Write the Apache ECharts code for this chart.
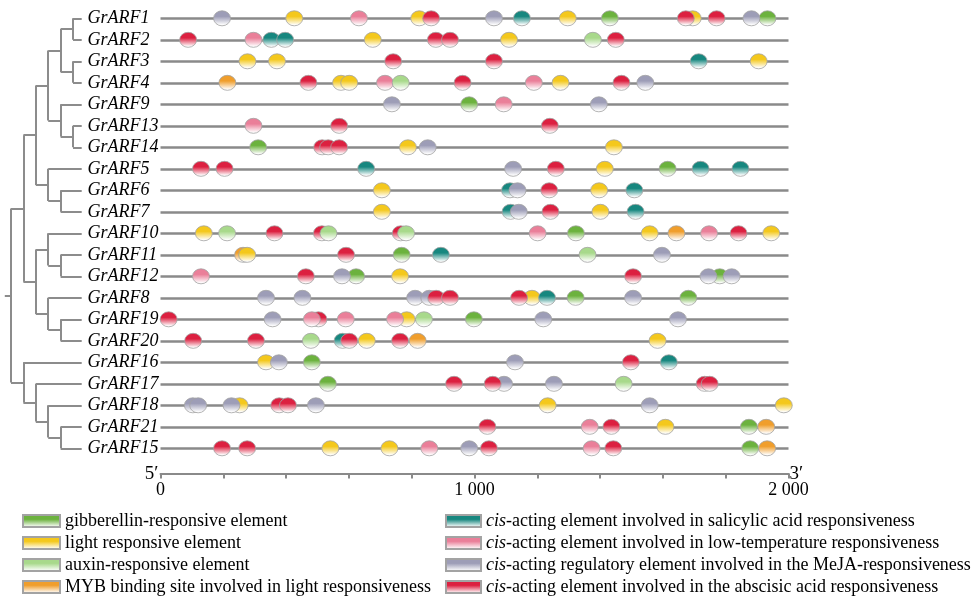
<!DOCTYPE html>
<html><head><meta charset="utf-8">
<script src="https://cdn.jsdelivr.net/npm/echarts@6/dist/echarts.min.js"></script>
<style>html,body{margin:0;padding:0;background:#fff}#c{width:980px;height:598px}</style>
</head><body><div id="c"></div>
<script>
// ---------------- data ----------------
const genes = ['GrARF1','GrARF2','GrARF3','GrARF4','GrARF9','GrARF13','GrARF14','GrARF5','GrARF6','GrARF7',
  'GrARF10','GrARF11','GrARF12','GrARF8','GrARF19','GrARF20','GrARF16','GrARF17','GrARF18','GrARF21','GrARF15'];
const seqLength = 2000;
const tickLabels = [0, 1000, 2000];
// phylogenetic tree (nested pairs)
const tree = [
  [
    [
      [ [['GrARF1','GrARF2'],['GrARF3','GrARF4']], ['GrARF9',['GrARF13','GrARF14']] ],
      ['GrARF5',['GrARF6','GrARF7']]
    ],
    [
      ['GrARF10',['GrARF11','GrARF12']],
      ['GrARF8',['GrARF19','GrARF20']]
    ]
  ],
  ['GrARF16',['GrARF17',['GrARF18',['GrARF21','GrARF15']]]]
];
// element positions: [position (bp), gene]
const gibberellin = [[1431,'GrARF1'],[1933,'GrARF1'],[983,'GrARF9'],[311,'GrARF14'],[1615,'GrARF5'],[1323,'GrARF10'],
  [768,'GrARF11'],[623,'GrARF12'],[1781,'GrARF12'],[1322,'GrARF8'],[1681,'GrARF8'],[998,'GrARF19'],[482,'GrARF16'],
  [533,'GrARF17'],[1874,'GrARF21'],[1878,'GrARF15']];
const lightResp = [[426,'GrARF1'],[824,'GrARF1'],[1297,'GrARF1'],[1695,'GrARF1'],[676,'GrARF2'],[1110,'GrARF2'],
  [277,'GrARF3'],[371,'GrARF3'],[1905,'GrARF3'],[575,'GrARF4'],[601,'GrARF4'],[1274,'GrARF4'],[788,'GrARF14'],[1444,'GrARF14'],
  [1415,'GrARF5'],[705,'GrARF6'],[1397,'GrARF6'],[705,'GrARF7'],[1401,'GrARF7'],[138,'GrARF10'],[1558,'GrARF10'],[1945,'GrARF10'],
  [276,'GrARF11'],[763,'GrARF12'],[1183,'GrARF8'],[784,'GrARF19'],[657,'GrARF20'],[1583,'GrARF20'],[336,'GrARF16'],
  [252,'GrARF18'],[1233,'GrARF18'],[1985,'GrARF18'],[1608,'GrARF21'],[541,'GrARF15'],[729,'GrARF15']];
const auxin = [[1377,'GrARF2'],[765,'GrARF4'],[212,'GrARF10'],[535,'GrARF10'],[782,'GrARF10'],[1360,'GrARF11'],
  [839,'GrARF19'],[479,'GrARF20'],[1475,'GrARF17']];
const myb = [[213,'GrARF4'],[1643,'GrARF10'],[263,'GrARF11'],[819,'GrARF20'],[1929,'GrARF21'],[1932,'GrARF15']];
const salicylic = [[1151,'GrARF1'],[353,'GrARF2'],[397,'GrARF2'],[1714,'GrARF3'],[655,'GrARF5'],[1720,'GrARF5'],[1847,'GrARF5'],
  [1113,'GrARF6'],[1509,'GrARF6'],[1115,'GrARF7'],[1513,'GrARF7'],[893,'GrARF11'],[1231,'GrARF8'],[580,'GrARF20'],[1619,'GrARF16']];
const lowTemp = [[632,'GrARF1'],[296,'GrARF2'],[715,'GrARF4'],[1189,'GrARF4'],[1093,'GrARF9'],[296,'GrARF13'],
  [1201,'GrARF10'],[1747,'GrARF10'],[129,'GrARF12'],[482,'GrARF19'],[590,'GrARF19'],[747,'GrARF19'],[1367,'GrARF21'],
  [856,'GrARF15'],[1373,'GrARF15']];
const meja = [[196,'GrARF1'],[1062,'GrARF1'],[1882,'GrARF1'],[1544,'GrARF4'],[737,'GrARF9'],[1396,'GrARF9'],[851,'GrARF14'],
  [1123,'GrARF5'],[1137,'GrARF6'],[1141,'GrARF7'],[1597,'GrARF11'],[578,'GrARF12'],[1745,'GrARF12'],[1819,'GrARF12'],
  [336,'GrARF8'],[452,'GrARF8'],[811,'GrARF8'],[856,'GrARF8'],[1505,'GrARF8'],[357,'GrARF19'],[1219,'GrARF19'],[1648,'GrARF19'],
  [377,'GrARF16'],[1129,'GrARF16'],[1094,'GrARF17'],[1253,'GrARF17'],[103,'GrARF18'],[120,'GrARF18'],[226,'GrARF18'],
  [495,'GrARF18'],[1558,'GrARF18'],[983,'GrARF15']];
const abscisic = [[862,'GrARF1'],[1673,'GrARF1'],[1771,'GrARF1'],[88,'GrARF2'],[877,'GrARF2'],[922,'GrARF2'],[1450,'GrARF2'],
  [741,'GrARF3'],[1062,'GrARF3'],[471,'GrARF4'],[962,'GrARF4'],[1468,'GrARF4'],[569,'GrARF13'],[1240,'GrARF13'],
  [515,'GrARF14'],[534,'GrARF14'],[569,'GrARF14'],[129,'GrARF5'],[204,'GrARF5'],[1259,'GrARF5'],[1238,'GrARF6'],[1242,'GrARF7'],
  [363,'GrARF10'],[514,'GrARF10'],[765,'GrARF10'],[1841,'GrARF10'],[591,'GrARF11'],[463,'GrARF12'],[1505,'GrARF12'],
  [878,'GrARF8'],[922,'GrARF8'],[1142,'GrARF8'],[26,'GrARF19'],[503,'GrARF19'],[104,'GrARF20'],[304,'GrARF20'],[601,'GrARF20'],
  [763,'GrARF20'],[1498,'GrARF16'],[935,'GrARF17'],[1058,'GrARF17'],[1733,'GrARF17'],[1749,'GrARF17'],[378,'GrARF18'],[406,'GrARF18'],
  [1041,'GrARF21'],[1436,'GrARF21'],[196,'GrARF15'],[276,'GrARF15'],[1046,'GrARF15'],[1442,'GrARF15']];

const elementNames = ['gibberellin-responsive element','light responsive element','auxin-responsive element',
  'MYB binding site involved in light responsiveness',
  'cis-acting element involved in salicylic acid responsiveness','cis-acting element involved in low-temperature responsiveness',
  'cis-acting regulatory element involved in the MeJA-responsiveness','cis-acting element involved in the abscisic acid responsiveness'];
const elementData = [gibberellin, lightResp, auxin, myb, salicylic, lowTemp, meja, abscisic];

// ---------------- styles ----------------
const elementColors = ['#6cb23e','#f4c81c','#a8d98b','#f09e2c','#17877f','#ea7f99','#9d9db7','#dc2040'];
const elementZ = [3,4,9,2,5,8,6,7];
const FONT = "'Liberation Serif','Times New Roman',serif";
const LEAF_DEPTH = 5.7;
const GRID_TOP = 7.55, GRID_H = 451.5, AXIS_OFFSET = 14.5;

function grad(c){
  return new echarts.graphic.LinearGradient(0,0,0,1,[
    {offset:0,color:c},{offset:0.38,color:c},{offset:0.92,color:'#ffffff'},{offset:1,color:'#ffffff'}]);
}

// ---------------- tree layout ----------------
const treeSegs = [];
function layout(node, depth){
  if (typeof node === 'string') return {y: genes.indexOf(node), leaf:true};
  const kids = node.map(k => layout(k, depth + 1));
  const y = (kids[0].y + kids[kids.length-1].y) / 2;
  treeSegs.push({coords:[[depth, kids[0].y],[depth, kids[kids.length-1].y]]});
  kids.forEach(k => treeSegs.push({coords:[[depth, k.y],[k.leaf ? LEAF_DEPTH : depth + 1, k.y]]}));
  return {y, leaf:false};
}
const rootInfo = layout(tree, 0);
treeSegs.push({coords:[[-0.5, rootInfo.y],[0, rootInfo.y]]});

const geneLines = genes.map(g => ({coords:[[0, g],[seqLength, g]]}));

const series = [
  {type:'lines', coordinateSystem:'cartesian2d', xAxisIndex:0, yAxisIndex:0, z:1, silent:true,
   lineStyle:{color:'#8a8a8a', width:2.6, opacity:1}, data: geneLines},
  {type:'lines', coordinateSystem:'cartesian2d', xAxisIndex:1, yAxisIndex:1, z:1, silent:true,
   lineStyle:{color:'#8c8c8c', width:2, opacity:1}, data: treeSegs}
];
elementNames.forEach((n, i) => {
  series.push({
    type:'scatter', name:n, xAxisIndex:0, yAxisIndex:0, z: elementZ[i], clip:false,
    symbol:'circle', symbolSize:[17,15],
    itemStyle:{color:grad(elementColors[i]), borderColor:'#a3a3a3', borderWidth:0.8, opacity:1},
    data: elementData[i]
  });
});

const nameStyle = {fontFamily:FONT, fontSize:19, color:'#000', verticalAlign:'middle', padding:[0,0,8,0]};

const chart = echarts.init(document.getElementById('c'), null, {renderer:'canvas'});
chart.setOption({
  animation:false,
  backgroundColor:'#fff',
  grid:[
    {left:160.5, width:628, top:GRID_TOP, height:GRID_H},
    {left:4.8, width:76.9, top:GRID_TOP, height:GRID_H},
    {left:160.5, width:628, top:GRID_TOP + AXIS_OFFSET, height:GRID_H}
  ],
  xAxis:[
    {type:'value', gridIndex:0, min:0, max:seqLength, interval:200, offset:AXIS_OFFSET,
     name:'3′', nameLocation:'end', nameGap:1, nameMoveOverlap:false, nameTextStyle:nameStyle,
     axisLine:{show:true, onZero:false, lineStyle:{color:'#8a8a8a', width:2}},
     axisTick:{show:true, length:5, lineStyle:{color:'#8a8a8a', width:2}},
     splitLine:{show:false},
     axisLabel:{fontFamily:FONT, fontSize:18, color:'#000', margin:8,
       formatter: v => tickLabels.indexOf(v) >= 0 ? (v >= 1000 ? String(v).replace(/(\d)(?=(\d{3})+$)/g,'$1 ') : String(v)) : ''}},
    {type:'value', gridIndex:1, min:-0.5, max:LEAF_DEPTH, show:false},
    {type:'value', gridIndex:2, min:0, max:seqLength,
     name:'5′', nameLocation:'start', nameGap:2, nameMoveOverlap:false, nameTextStyle:nameStyle,
     axisLine:{show:false, onZero:false}, axisTick:{show:false}, axisLabel:{show:false}, splitLine:{show:false}}
  ],
  yAxis:[
    {type:'category', gridIndex:0, data:genes, inverse:true,
     axisLine:{show:false}, axisTick:{show:false}, splitLine:{show:false},
     axisLabel:{interval:0, fontFamily:FONT, fontStyle:'italic', fontSize:18, color:'#000', align:'left', margin:73}},
    {type:'value', gridIndex:1, min:-0.5, max:genes.length - 0.5, inverse:true, show:false},
    {type:'value', gridIndex:2, show:false}
  ],
  legend:[
    {data:elementNames.slice(0,4), orient:'vertical', left:22, top:512, height:86, padding:0, icon:'rect',
     itemWidth:37, itemHeight:12, itemGap:4, selectedMode:false,
     textStyle:{fontFamily:FONT, fontSize:18, color:'#000', lineHeight:18}},
    {data:elementNames.slice(4), orient:'vertical', left:445, top:512, height:86, padding:0, icon:'rect',
     itemWidth:35, itemHeight:12, itemGap:4, selectedMode:false,
     formatter: n => n.replace(/^cis/, '{i|cis}'),
     textStyle:{fontFamily:FONT, fontSize:18, color:'#000', lineHeight:18,
       rich:{i:{fontFamily:FONT, fontSize:18, fontStyle:'italic', color:'#000', lineHeight:18}}}}
  ],
  series: series
});
</script></body></html>
